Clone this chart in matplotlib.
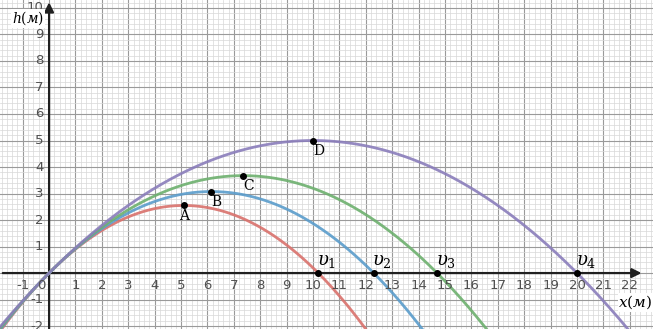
import numpy as np
import matplotlib.pyplot as plt

plt.rcParams['mathtext.fontset'] = 'dejavuserif'

# trajectories: h = x * (1 - x / R), launch angle 45 deg
ranges = [10.2, 12.3, 14.7, 20.0]
colors = ['#d9716c', '#5a9ccb', '#6db06e', '#8a7dbb']
top_names = ['A', 'B', 'C', 'D']
range_names = [r'$\upsilon_1$', r'$\upsilon_2$', r'$\upsilon_3$', r'$\upsilon_4$']

x_ticks = [-1] + list(range(1, 23))
y_ticks = list(range(-2, 11))

fig = plt.figure(figsize=(6.53, 3.29), dpi=100)
ax = fig.add_axes([0, 0, 1, 1])
ax.set_xlim(-1.86, 22.88)
ax.set_ylim(-2.11, 10.3)

ax.set_xticks(np.arange(-1, 23, 1))
ax.set_yticks(np.arange(-2, 11, 1))
ax.set_xticks(np.arange(-1.8, 23, 0.2), minor=True)
ax.set_yticks(np.arange(-2, 10.4, 0.2), minor=True)
ax.grid(which='major', color='#9a9a9a', lw=0.8)
ax.grid(which='minor', color='#d8d8d8', lw=0.5)
ax.tick_params(which='both', length=0, labelbottom=False, labelleft=False)
for s in ax.spines.values():
    s.set_visible(False)
ax.set_axisbelow(True)

# axes with arrows
ax.annotate('', xy=(22.55, 0), xytext=(-1.86, 0), annotation_clip=False,
            arrowprops=dict(arrowstyle='-|>', color='#202020', lw=1.6, mutation_scale=14))
ax.annotate('', xy=(0, 10.32), xytext=(0, -2.2), annotation_clip=False,
            arrowprops=dict(arrowstyle='-|>', color='#202020', lw=1.6, mutation_scale=14))

xs = np.linspace(-1.86, 22.88, 600)
for R, c in zip(ranges, colors):
    ax.plot(xs, xs * (1 - xs / R), color=c, lw=2, alpha=0.9, zorder=3)

for R, name, vname in zip(ranges, top_names, range_names):
    ax.plot(R / 2, R / 4, 'o', color='black', ms=4, zorder=5)
    ax.text(R / 2, R / 4 - 0.12, name, family='DejaVu Serif', fontsize=10,
            ha='left' if name != 'A' else 'center', va='top', zorder=6)
    ax.plot(R, 0, 'o', color='black', ms=4, zorder=5)
    ax.text(R - 0.05, 0.12, vname, fontsize=13, ha='left', va='bottom', zorder=6)

for t in x_ticks:
    ax.text(t, -0.22, str(t), fontsize=9.5, color='#505050', ha='center', va='top')
for t in y_ticks:
    if t == 0:
        continue
    ax.text(-0.22, t, str(t), fontsize=9.5, color='#505050', ha='right', va='center')
ax.text(-0.15, -0.22, '0', fontsize=9.5, color='#505050', ha='right', va='top')

ax.text(-1.4, 9.6, r'$h(м)$', fontsize=10, ha='left', va='center',
        bbox=dict(fc='white', ec='none', pad=0.5), zorder=7)
ax.text(22.85, -1.1, r'$x(м)$', fontsize=11, ha='right', va='center',
        bbox=dict(fc='white', ec='none', pad=0.5), zorder=7)

fig.savefig('out.png', dpi=100)
